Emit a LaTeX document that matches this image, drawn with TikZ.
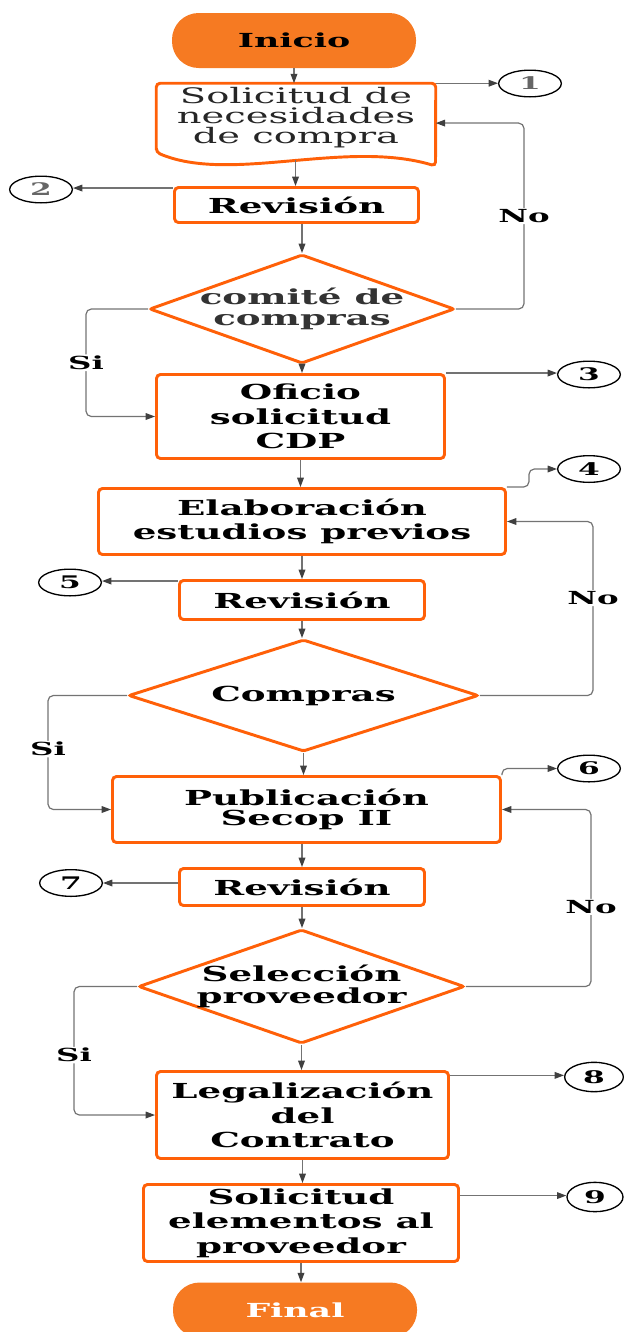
\documentclass[tikz,border=0pt]{standalone}
\usepackage{fontspec}
\usetikzlibrary{shapes.geometric,arrows.meta}
\newfontfamily\flowfont{DejaVu Serif}[FakeStretch=1.8]
\definecolor{flowor}{RGB}{255,96,8}
\definecolor{flowfill}{RGB}{246,122,34}
\begin{document}
\begin{tikzpicture}[x=0.75pt,y=-0.75pt,
  box/.style={draw=flowor,line width=2.2pt,rounded corners=3pt,fill=white,inner sep=0pt,align=center,font=\flowfont\bfseries\fontsize{15.5}{18.5}\selectfont},
  decision/.style={diamond,draw=flowor,line width=2.2pt,rounded corners=1.5pt,fill=white,inner sep=0pt},
  dlabel/.style={align=center,font=\flowfont\bfseries\fontsize{15.5}{18.5}\selectfont},
  term/.style={fill=flowfill,rounded corners=20pt,minimum width=183pt,minimum height=41.25pt,inner sep=0pt,font=\flowfont\bfseries\fontsize{14.5}{18.5}\selectfont},
  num/.style={ellipse,draw,line width=1pt,inner sep=0pt,minimum width=47pt,minimum height=20pt,font=\flowfont\bfseries\fontsize{13}{13}\selectfont},
  flow/.style={draw=black!55,line width=0.9pt,-{Triangle[length=7pt,width=5pt,color=black!75]}},
  lbl/.style={fill=white,inner sep=1pt,font=\flowfont\bfseries\fontsize{13.5}{14}\selectfont}]
\useasboundingbox (0,0) rectangle (624,1332);

\node[term] (ini) at (294,40.5) {Inicio};
\node[align=center,inner sep=0pt,minimum width=209.25pt,minimum height=51.4pt,text=black!85,
  font=\flowfont\fontsize{16}{15}\selectfont] (sol) at (296,117.75) {Solicitud de\\necesidades\\de compra};
\draw[draw=flowor,line width=2.2pt,rounded corners=3pt] (sol.south west) -- (sol.north west) -- (sol.north east)
  -- (435.5,166) .. controls (345,139) and (230,184) .. (sol.south west) coordinate[pos=.48] (solb) -- cycle;
\node[box,minimum width=183pt,minimum height=26.25pt] (rev1) at (296.5,205) {Revisión};
\node[decision,minimum width=228.75pt,minimum height=81.75pt,
  label={[dlabel,text=black!80]center:comité de\\[-3pt]compras}] (com) at (302,309) {};
\node[box,minimum width=216pt,minimum height=63pt] (ofi) at (300.5,416.5) {Oficio\\solicitud\\CDP};
\node[box,minimum width=305.25pt,minimum height=49.5pt] (ela) at (302,521.5) {Elaboración\\estudios previos};
\node[box,minimum width=183.75pt,minimum height=29.25pt] (rev2) at (302,600) {Revisión};
\node[decision,minimum width=262.5pt,minimum height=84pt,label={[dlabel]center:Compras}] (cmp) at (303.5,695.5) {};
\node[box,minimum width=291pt,minimum height=49.5pt] (pub) at (306.5,809.5) {Publicación\\[-3.5pt]Secop II};
\node[box,minimum width=183.75pt,minimum height=27.75pt] (rev3) at (302,887) {Revisión};
\node[decision,minimum width=244.5pt,minimum height=85.5pt,
  label={[dlabel]center:Selección\\[-1.5pt]proveedor}] (sel) at (301.5,986.5) {};
\node[box,minimum width=219pt,minimum height=65.25pt] (leg) at (302.5,1115) {Legalización\\del\\Contrato};
\node[box,minimum width=236.25pt,minimum height=57.75pt] (elem) at (301,1223) {Solicitud\\elementos al\\proveedor};
\node[term,text=white] (fin) at (295,1310) {Final};

\node[num,text=black!60] (c1) at (530,83.5) {1};
\node[num,text=black!60] (c2) at (41,189.5) {2};
\node[num] (c3) at (589,374.5) {3};
\node[num] (c4) at (589,469) {4};
\node[num] (c5) at (70,582.5) {5};
\node[num] (c6) at (589,768.5) {6};
\node[num] (c7) at (71,883) {7};
\node[num,minimum width=44pt,minimum height=22pt] (c8) at (594,1077) {8};
\node[num,minimum width=42pt,minimum height=22pt] (c9) at (595,1197) {9};

\draw[flow] (ini.south) -- (ini.south |- sol.north);
\draw[flow] (sol.north east) -- (sol.north east -| c1.west);
\draw[flow] (solb) -- (solb |- rev1.north);
\draw[flow] ([yshift=-1.5pt]rev1.north west) -- ([yshift=-1.5pt]rev1.north west -| c2.east);
\draw[flow] (com.north |- rev1.south) -- (com.north);
\draw[flow,rounded corners=4pt] (com.east) -- (524,309) |- node[lbl,pos=.25] {No} ([yshift=-4pt]sol.east);
\draw[flow,rounded corners=4pt] (com.west) -- (86,309) |- node[lbl,pos=.25] {Si} (ofi.west);
\draw[flow] (com.south) -- (com.south |- ofi.north);
\draw[flow] (ofi.north east) -- (ofi.north east -| c3.west);
\draw[flow] (ofi.south) -- (ofi.south |- ela.north);
\draw[flow,rounded corners=4pt] (ela.north east) -- ++(22,0) |- (c4);
\draw[flow] (ela.south) -- (ela.south |- rev2.north);
\draw[flow] ([yshift=-1.5pt]rev2.north west) -- ([yshift=-1.5pt]rev2.north west -| c5.east);
\draw[flow] (rev2.south) -- (rev2.south |- cmp.north);
\draw[flow,rounded corners=4pt] (cmp.east) -- (593,695.5) |- node[lbl,pos=.28] {No} (ela.east);
\draw[flow,rounded corners=4pt] (cmp.west) -- (48,695.5) |- node[lbl,pos=.235] {Si} (pub.west);
\draw[flow] (cmp.south) -- (cmp.south |- pub.north);
\draw[flow,rounded corners=4pt] (pub.north east) |- (c6);
\draw[flow] (rev3.north |- pub.south) -- (rev3.north);
\draw[flow] ([yshift=3pt]rev3.west) -- ([yshift=3pt]rev3.west -| c7.east);
\draw[flow] (rev3.south) -- (rev3.south |- sel.north);
\draw[flow,rounded corners=4pt] (sel.east) -- (591,986.5) |- node[lbl,pos=.225] {No} (pub.east);
\draw[flow,rounded corners=4pt] (sel.west) -- (74,986.5) |- node[lbl,pos=.267] {Si} (leg.west);
\draw[flow] (sel.south) -- (sel.south |- leg.north);
\draw[flow] ([yshift=-4pt]leg.north east) -- ([yshift=-4pt]leg.north east -| c8.west);
\draw[flow] (leg.south) -- (leg.south |- elem.north);
\draw[flow] ([yshift=-9.4pt]elem.north east) -- ([yshift=-9.4pt]elem.north east -| c9.west);
\draw[flow] (elem.south) -- (elem.south |- fin.north);
\end{tikzpicture}
\end{document}
